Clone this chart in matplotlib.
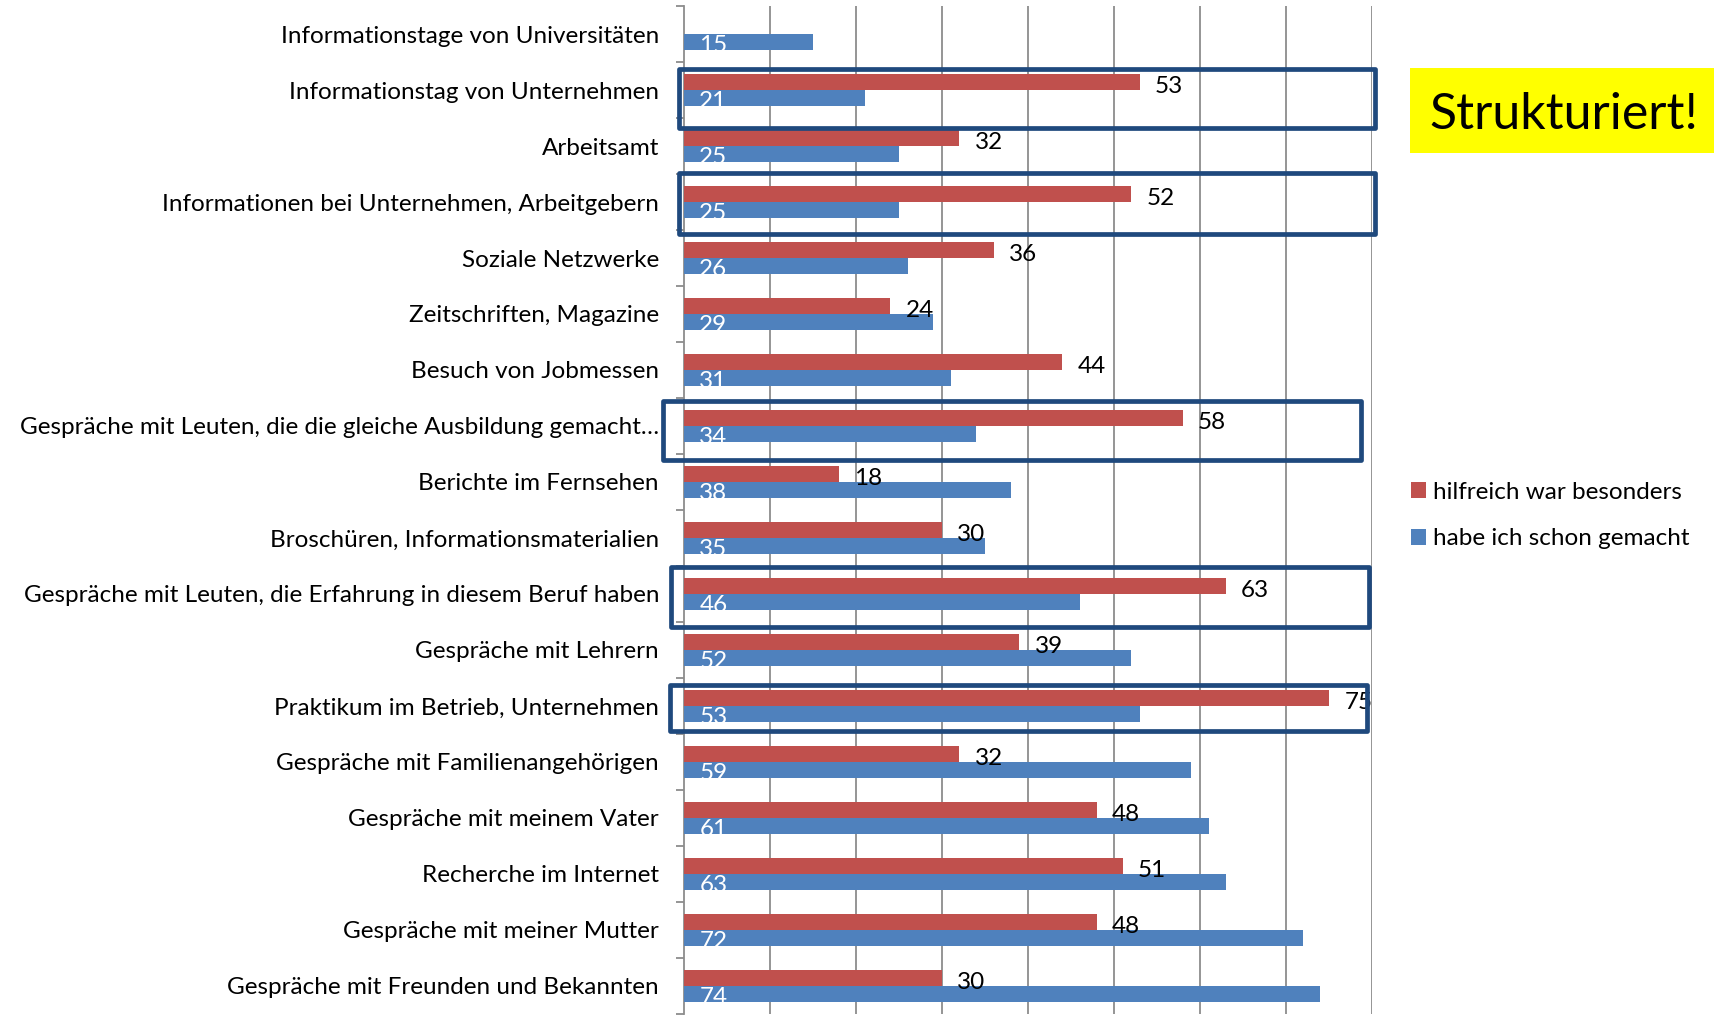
import matplotlib
matplotlib.use("Agg")
import matplotlib.pyplot as plt
import numpy as np
from matplotlib.patches import Rectangle
from matplotlib.ticker import FixedLocator

plt.rcParams["font.family"] = ["Lato", "DejaVu Sans"]

# Daten (von oben nach unten)
categories = [
    "Informationstage von Universitäten",
    "Informationstag von Unternehmen",
    "Arbeitsamt",
    "Informationen bei Unternehmen, Arbeitgebern",
    "Soziale Netzwerke",
    "Zeitschriften, Magazine",
    "Besuch von Jobmessen",
    "Gespräche mit Leuten, die die gleiche Ausbildung gemacht…",
    "Berichte im Fernsehen",
    "Broschüren, Informationsmaterialien",
    "Gespräche mit Leuten, die Erfahrung in diesem Beruf haben",
    "Gespräche mit Lehrern",
    "Praktikum im Betrieb, Unternehmen",
    "Gespräche mit Familienangehörigen",
    "Gespräche mit meinem Vater",
    "Recherche im Internet",
    "Gespräche mit meiner Mutter",
    "Gespräche mit Freunden und Bekannten",
]
hilfreich = [np.nan, 53, 32, 52, 36, 24, 44, 58, 18, 30, 63, 39, 75, 32, 48, 51, 48, 30]
gemacht = [15, 21, 25, 25, 26, 29, 31, 34, 38, 35, 46, 52, 53, 59, 61, 63, 72, 74]
series_names = ["hilfreich war besonders", "habe ich schon gemacht"]

# hervorgehobene Kategorien: (Index, x0, x1, y0-Versatz, y1-Versatz)
highlights = [
    (1, -0.6, 80.35, -0.375, 0.68),
    (3, -0.6, 80.35, -0.52, 0.57),
    (7, -2.45, 78.7, -0.45, 0.61),
    (10, -1.5, 79.65, -0.48, 0.59),
    (12, -1.6, 79.4, -0.37, 0.45),
]

RED = "#C0504D"
BLUE = "#4F81BD"
BOX = "#1F497D"
W, H = 1714, 1015

fig = plt.figure(figsize=(W / 100, H / 100), dpi=100)
ax = fig.add_axes([684 / W, 1 - 1014 / H, (1372 - 684) / W, (1014 - 6) / H])

y = np.arange(len(categories))
h = 0.29
red_bars = ax.barh(y - h / 2, hilfreich, height=h, color=RED, zorder=3)
blue_bars = ax.barh(y + h / 2, gemacht, height=h, color=BLUE, zorder=3)

ax.set_xlim(0, 80)
ax.set_ylim(len(categories) - 0.5, -0.5)

fs = 17.5
for yi, v in zip(y, hilfreich):
    if np.isnan(v):
        continue
    ax.annotate(f"{v:.0f}", xy=(v, yi - h / 2), xytext=(11, -3), textcoords="offset points",
                ha="left", va="center", fontsize=fs, color="black", clip_on=True,
                annotation_clip=True, zorder=4)
for yi, v in zip(y, gemacht):
    ax.annotate(f"{v:.0f}", xy=(0, yi + h / 2), xytext=(11, -2.5), textcoords="offset points",
                ha="left", va="center", fontsize=fs, color="white", zorder=4)

# Achsen im Excel-Stil
ax.xaxis.set_major_locator(FixedLocator(np.arange(10, 81, 10)))
ax.grid(axis="x", color="#8C8C8C", linewidth=1.3, zorder=0)
ax.tick_params(axis="x", bottom=False, labelbottom=False)
ax.set_yticks(y)
ax.set_yticklabels(categories, fontsize=fs)
ax.tick_params(axis="y", which="major", length=0, pad=18)
ax.yaxis.set_minor_locator(FixedLocator(np.arange(-0.5, len(categories), 1)))
ax.tick_params(axis="y", which="minor", length=6, width=1.3, color="#8C8C8C")
for side in ["top", "right", "bottom"]:
    ax.spines[side].set_visible(False)
ax.spines["left"].set_color("#8C8C8C")
ax.spines["left"].set_linewidth(1.3)

for idx, x0, x1, d0, d1 in highlights:
    ax.add_patch(Rectangle((x0, idx + d0), x1 - x0, d1 - d0, fill=False, edgecolor=BOX,
                           linewidth=3.4, clip_on=False, zorder=5, joinstyle="round"))

# Legende
fig.legend([red_bars, blue_bars], series_names, loc="upper left",
           bbox_to_anchor=(1389 / W, 1 - 460 / H), frameon=False, fontsize=fs,
           handlelength=0.62, handleheight=0.62, handletextpad=0.3, labelspacing=1.05)

# Stempel
fig.patches.append(Rectangle((1410 / W, 1 - 153 / H), (W - 1410) / W, 85 / H,
                             transform=fig.transFigure, facecolor="#FFFF00", edgecolor="none"))
fig.text(1429 / W, 1 - 115 / H, "Strukturiert!", fontsize=36, va="center", ha="left")

fig.savefig("out.png", dpi=100)
